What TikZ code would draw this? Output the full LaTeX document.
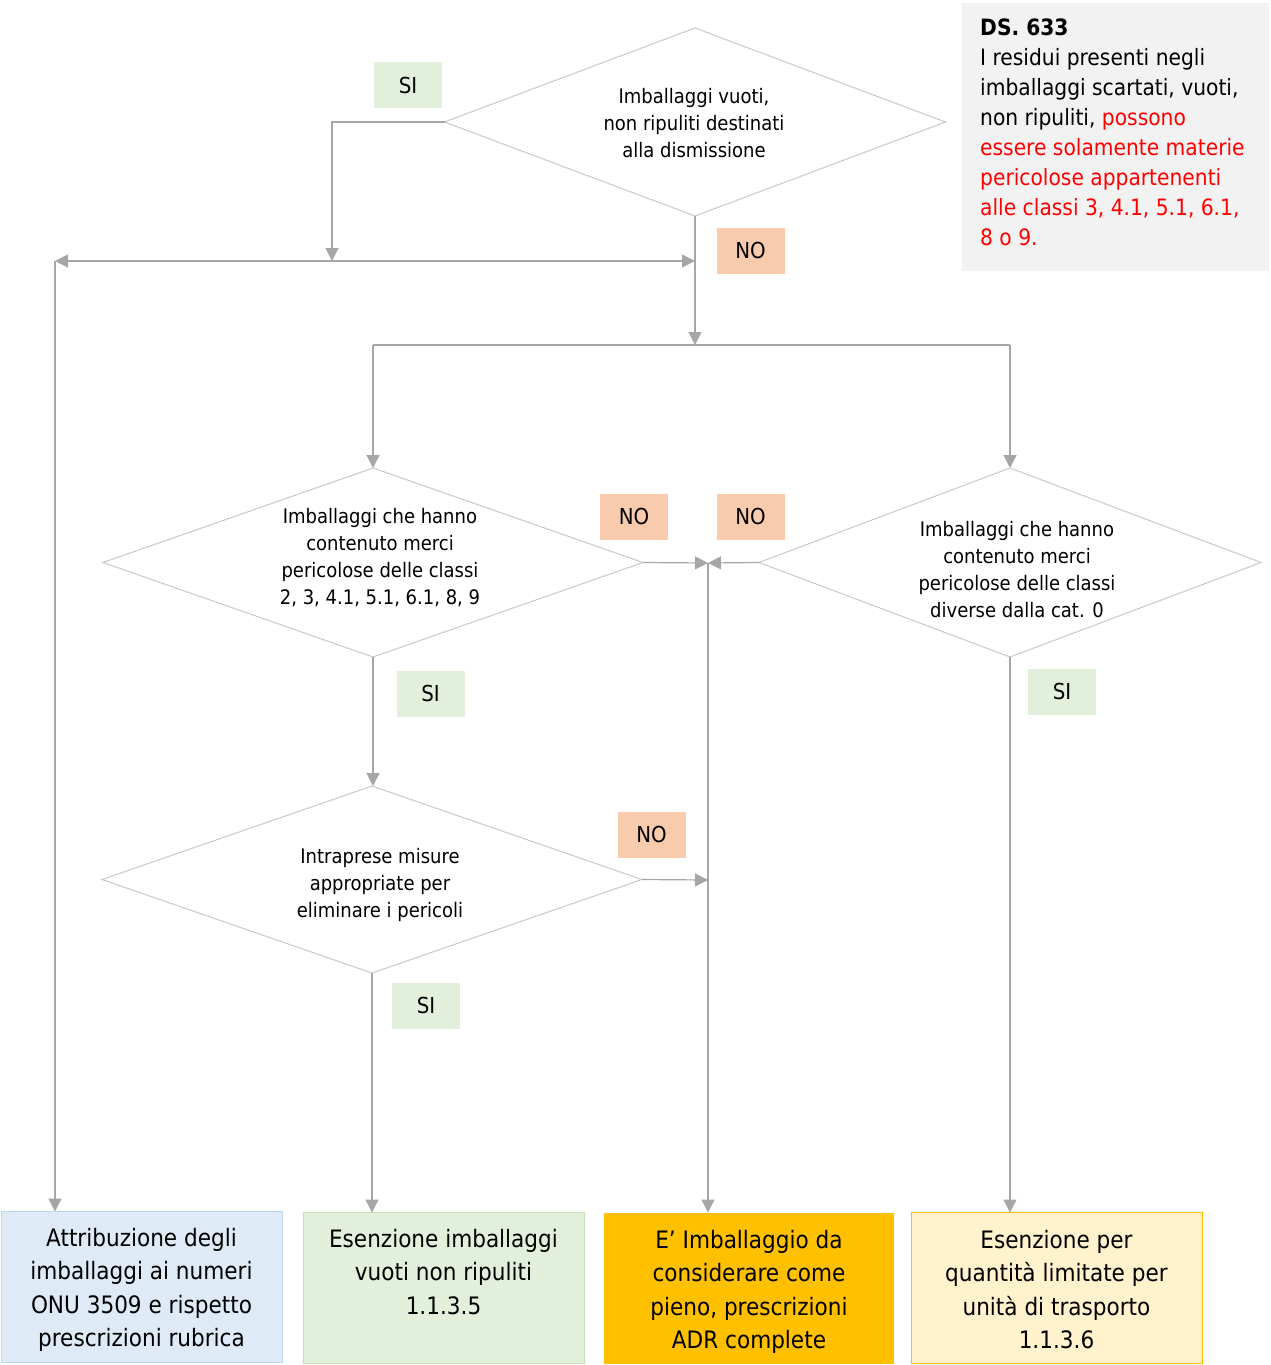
\documentclass[tikz,border=0pt]{standalone}
\usepackage{fontspec}
\setmainfont{DejaVu Sans Condensed}
\usetikzlibrary{arrows.meta,shapes.geometric}
\definecolor{linegray}{HTML}{A6A6A6}
\definecolor{dgray}{HTML}{C8C8C8}
\definecolor{sigreen}{HTML}{E2EFDA}
\definecolor{nosalmon}{HTML}{F8CBAD}
\definecolor{bblue}{HTML}{DEEBF7}
\definecolor{bbluedraw}{HTML}{BDD7EE}
\definecolor{bgreendraw}{HTML}{C5E0B4}
\definecolor{borange}{HTML}{FFC000}
\definecolor{byellow}{HTML}{FFF2CC}
\definecolor{infogray}{HTML}{F2F2F2}
\definecolor{redtext}{HTML}{FF0000}
\begin{document}
\begin{tikzpicture}[x=1pt,y=-1pt,
  dec/.style={diamond, draw=dgray, line width=1pt, inner sep=0pt, outer sep=0pt, aspect=2.6},
  conn/.style={draw=linegray, line width=1.2pt},
  arr/.style={conn, -{Triangle[length=13pt,width=13pt]}},
  darr/.style={conn, {Triangle[length=13pt,width=13pt]}-{Triangle[length=13pt,width=13pt]}},
  lab/.style={minimum width=68pt, minimum height=46pt, inner sep=0pt, font=\fontsize{22}{26}\selectfont},
  silab/.style={lab, fill=sigreen},
  nolab/.style={lab, fill=nosalmon},
  dtext/.style={align=center, font=\fontsize{20}{27}\selectfont, inner sep=0pt},
  outbox/.style={rectangle, minimum height=151pt, inner sep=0pt, outer sep=0pt, line width=1pt},
  btext/.style={align=center, font=\fontsize{24}{33.3}\selectfont, inner sep=0pt, anchor=north}
]
\useasboundingbox (0,0) rectangle (1271,1365);

% info box
\node[fill=infogray, minimum width=307pt, minimum height=268pt, inner sep=0pt, anchor=north west] (info) at (962,3) {};
\node[anchor=north west, align=left, inner sep=0pt, font=\fontsize{22.5}{30}\selectfont] (infotext) at (980,19)
  {{\bfseries DS. 633}\\
   I residui presenti negli\\
   imballaggi scartati, vuoti,\\
   non ripuliti, \textcolor{redtext}{possono}\\
   \textcolor{redtext}{essere solamente materie}\\
   \textcolor{redtext}{pericolose appartenenti}\\
   \textcolor{redtext}{alle classi 3, 4.1, 5.1, 6.1,}\\
   \textcolor{redtext}{8 o 9.}};

% diamonds
\node[dec, minimum width=501pt, minimum height=188pt] (d1) at (695,122) {};
\node[dtext] (t1) at (694,123) {Imballaggi vuoti,\\non ripuliti destinati\\alla dismissione};
\node[dec, minimum width=540pt, minimum height=189pt] (d2) at (373,562.5) {};
\node[dtext] (t2) at (380,558) {Imballaggi che hanno\\contenuto merci\\pericolose delle classi\\2, 3, 4.1, 5.1, 6.1, 8, 9};
\node[dec, minimum width=502pt, minimum height=189pt] (d3) at (1010,562.5) {};
\node[dtext] (t3) at (1017,570) {Imballaggi che hanno\\contenuto merci\\pericolose delle classi\\diverse dalla cat. 0};
\node[dec, minimum width=540pt, minimum height=187pt] (d4) at (372,879.5) {};
\node[dtext] (t4) at (380,885) {Intraprese misure\\appropriate per\\eliminare i pericoli};

% labels
\node[silab] (si1) at (408,85) {SI};
\node[nolab] (no1) at (750.5,250.5) {NO};
\node[nolab] (no2) at (634,516.5) {NO};
\node[nolab] (no3) at (750.5,516.5) {NO};
\node[silab] (si2) at (430.5,693.5) {SI};
\node[nolab] (no4) at (651.5,834.5) {NO};
\node[silab] (si3) at (426,1005.5) {SI};
\node[silab] (si4) at (1062,691.5) {SI};

% output boxes
\node[outbox, minimum width=281pt, fill=bblue, draw=bbluedraw] (b1) at (141.5,1287) {};
\node[btext] (bt1) at (141.5,1228) {Attribuzione degli\\imballaggi ai numeri\\ONU 3509 e rispetto\\prescrizioni rubrica};
\node[outbox, minimum width=281pt, fill=sigreen, draw=bgreendraw] (b2) at (443.5,1288) {};
\node[btext] (bt2) at (443.5,1229) {Esenzione imballaggi\\vuoti non ripuliti\\1.1.3.5};
\node[outbox, minimum width=290pt, fill=borange] (b3) at (749,1288) {};
\node[btext] (bt3) at (749,1230) {E’ Imballaggio da\\considerare come\\pieno, prescrizioni\\ADR complete};
\node[outbox, minimum width=291pt, fill=byellow, draw=borange] (b4) at (1056.5,1288) {};
\node[btext] (bt4) at (1056.5,1230) {Esenzione per\\quantità limitate per\\unità di trasporto\\1.1.3.6};

% junction coordinates
\coordinate (siTurn) at (332,122);
\coordinate (siEnd) at (332,261);
\coordinate (hL) at (55,261);
\coordinate (hR) at (695,261);
\coordinate (j1) at (695,345);
\coordinate (jL) at (373,345);
\coordinate (jR) at (1010,345);
\coordinate (m1) at (708,563);
\coordinate (m2) at (708,880);

% connectors
\draw[arr] (d1.west) -- (siTurn) -- (siEnd);
\draw[darr] (hL) -- (hR);
\draw[arr] (hL) -- (hL |- b1.north);
\draw[arr] (d1.south) -- (j1);
\draw[conn] (jL) -- (jR);
\draw[arr] (jL) -- (d2.north);
\draw[arr] (jR) -- (d3.north);
\draw[arr] (d2.east) -- (m1);
\draw[arr] (d3.west) -- (m1);
\draw[arr] (m1) -- (m1 |- b3.north);
\draw[arr] (d2.south) -- (d2.south |- d4.north);
\draw[arr] (d4.east) -- (m2);
\draw[arr] (d4.south) -- (d4.south |- b2.north);
\draw[arr] (d3.south) -- (d3.south |- b4.north);
\end{tikzpicture}
\end{document}
